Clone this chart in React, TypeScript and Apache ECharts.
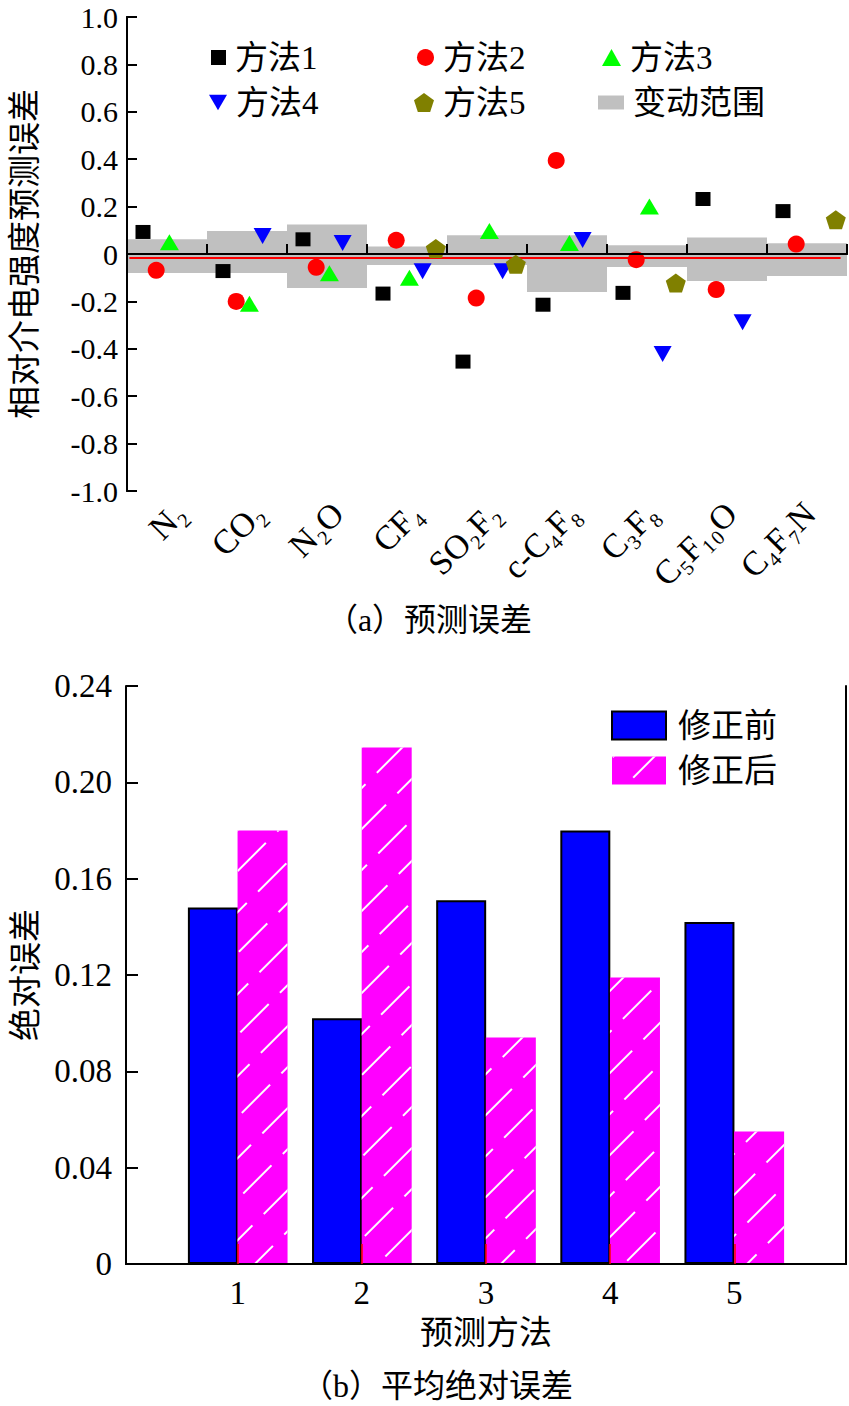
import React, { useEffect, useRef } from 'react';
import * as echarts from 'echarts';

const FONT = "'Liberation Serif', 'DejaVu Serif', 'Noto Sans CJK SC', serif";

// ---- chart (a) data ----
const gasLabels = ['N₂', 'CO₂', 'N₂O', 'CF₄', 'SO₂F₂', 'c-C₄F₈', 'C₃F₈', 'C₅F₁₀O', 'C₄F₇N'];
const methodNames = ['方法1', '方法2', '方法3', '方法4', '方法5'];
const method1 = [0.093, -0.072, 0.062, -0.167, -0.454, -0.214, -0.164, 0.232, 0.181];
const method2 = [-0.069, -0.2, -0.056, 0.058, -0.186, 0.395, -0.024, -0.15, 0.042];
const method3 = [0.05, -0.21, -0.081, -0.1, 0.097, 0.046, 0.2, null, null];
const method4 = [null, 0.076, 0.046, -0.073, -0.073, 0.059, -0.422, -0.288, null];
const method5 = [null, null, null, 0.023, -0.043, null, -0.122, null, 0.144];
const rangeLow = [-0.08, -0.08, -0.143, -0.046, -0.046, -0.16, -0.055, -0.114, -0.093];
const rangeHigh = [0.062, 0.097, 0.125, 0.032, 0.079, 0.079, 0.037, 0.07, 0.045];
const meanError = -0.017;
const rangeName = '变动范围';

// ---- chart (b) data ----
const methodIds = [1, 2, 3, 4, 5];
const maeBefore = [0.148, 0.102, 0.151, 0.18, 0.142];
const maeAfter = [0.18, 0.2145, 0.094, 0.119, 0.055];
const barNames = ['修正前', '修正后'];

const PENTAGON = 'path://M50,0 L97.6,34.5 L79.4,90.5 L20.6,90.5 L2.4,34.5 Z';
const INV_TRI = 'path://M0,0 L20,0 L10,17 Z';

const colors = ['#000000', '#FF0000', '#00FF00', '#0000FF', '#808000'];
const symbols = ['rect', 'circle', 'triangle', INV_TRI, PENTAGON];
const symbolSizes: any[] = [[15, 14], 17, [19, 16], [18, 16], [20, 19]];

const slot = (ci: number, k: number) => ci + 0.2 + 0.165 * k;

function buildOption(): any {
  const methodData = [method1, method2, method3, method4, method5];
  const scatterSeries = methodData.map((vals, k) => ({
    type: 'scatter',
    name: methodNames[k],
    xAxisIndex: 0,
    yAxisIndex: 0,
    symbol: symbols[k],
    symbolSize: symbolSizes[k],
    itemStyle: { color: colors[k], opacity: 1 },
    data: vals
      .map((v, ci) => (v === null ? null : [slot(ci, k), v]))
      .filter((d) => d !== null),
    z: 4,
  }));

  const bandSeries = {
    type: 'custom',
    name: rangeName,
    xAxisIndex: 0,
    yAxisIndex: 0,
    itemStyle: { color: '#C0C0C0' },
    encode: { x: 0, y: [1, 2] },
    data: rangeLow.map((lo, i) => [i, lo, rangeHigh[i]]),
    renderItem: (params: any, api: any) => {
      const i = api.value(0);
      const lo = api.value(1);
      const hi = api.value(2);
      const p1 = api.coord([i, hi]);
      const p2 = api.coord([i + 1, lo]);
      return {
        type: 'rect',
        shape: { x: p1[0], y: p1[1], width: p2[0] - p1[0], height: p2[1] - p1[1] },
        style: { fill: '#C0C0C0' },
      };
    },
    z: 1,
  };

  const meanLine = {
    type: 'line',
    xAxisIndex: 0,
    yAxisIndex: 0,
    data: [[0.03, meanError], [gasLabels.length - 0.08, meanError]],
    symbol: 'none',
    lineStyle: { color: '#FF0000', width: 2 },
    z: 2,
    silent: true,
  };

  const barBefore = {
    type: 'bar',
    name: barNames[0],
    xAxisIndex: 2,
    yAxisIndex: 2,
    barWidth: 50,
    barGap: '-100%',
    data: methodIds.map((m, i) => [m - 0.2, maeBefore[i]]),
    itemStyle: { color: '#0000FF', borderColor: '#000000', borderWidth: 2 },
    z: 2,
  };
  const barAfter = {
    type: 'bar',
    name: barNames[1],
    xAxisIndex: 2,
    yAxisIndex: 2,
    barWidth: 50,
    barGap: '-100%',
    data: methodIds.map((m, i) => [m + 0.2, maeAfter[i]]),
    itemStyle: {
      color: '#FF00FF',
      decal: {
        symbol: 'rect',
        symbolSize: 1,
        color: '#FFFFFF',
        dashArrayX: [40, 16],
        dashArrayY: [1.5, 27],
        rotation: -Math.PI / 4,
      },
    },
    z: 3,
  };

  const legendText = { fontSize: 33, fontFamily: FONT, color: '#000', padding: [0, 0, 0, 4] };
  const mkLegend = (name: string, icon: string, left: number, top: number, w: number, h: number) => ({
    left, top, padding: 0, itemGap: 0, itemWidth: w, itemHeight: h, selectedMode: false,
    textStyle: legendText,
    data: [{ name, icon }],
  });

  const frameLine = { lineStyle: { color: '#000', width: 2 } };
  const hidden = { axisLine: { show: false }, axisTick: { show: false }, axisLabel: { show: false }, splitLine: { show: false } };

  return {
    animation: false,
    backgroundColor: '#ffffff',
    textStyle: { fontFamily: FONT },
    grid: [
      { left: 127, top: 17, width: 720, height: 474 },
      { left: 126, top: 686, width: 720, height: 578 },
      // label-only grid for the rotated gas names (slightly shifted like the original)
      { left: 141, top: 17, width: 720, height: 474 },
    ],
    legend: [
      mkLegend(methodNames[0], 'rect', 211, 41, 15, 15),
      mkLegend(methodNames[1], 'circle', 417, 41, 17, 17),
      mkLegend(methodNames[2], 'triangle', 602, 41, 19, 17),
      mkLegend(methodNames[3], INV_TRI, 209, 86, 18, 16),
      mkLegend(methodNames[4], PENTAGON, 414, 86, 20, 19),
      mkLegend(rangeName, 'rect', 598, 86, 26, 14),
      {
        left: 611, top: 709, orient: 'vertical', padding: 0, itemGap: 12,
        itemWidth: 54, itemHeight: 28, selectedMode: false,
        textStyle: { fontSize: 33, fontFamily: FONT, color: '#000', padding: [0, 0, 0, 7] },
        data: [{ name: barNames[0], icon: 'rect' }, { name: barNames[1], icon: 'rect' }],
      },
    ],
    xAxis: [
      {
        type: 'value', gridIndex: 0, min: 0, max: gasLabels.length, interval: 1, position: 'bottom', z: 10,
        axisLine: frameLine,
        axisTick: { inside: true, length: 10, lineStyle: { color: '#000', width: 2 } },
        axisLabel: { show: false },
        splitLine: { show: false },
      },
      {
        type: 'value', gridIndex: 0, min: 0, max: gasLabels.length, position: 'top', z: 10,
        axisLine: frameLine, axisTick: { show: false }, axisLabel: { show: false }, splitLine: { show: false },
      },
      {
        type: 'value', gridIndex: 1, min: 0.1, max: 5.9, position: 'bottom', z: 10,
        axisLine: frameLine,
        axisTick: { inside: true, length: 20, customValues: methodIds, lineStyle: { color: '#FF0000', width: 1.5 } },
        axisLabel: {
          customValues: methodIds, margin: 12, fontSize: 33, fontFamily: FONT, color: '#000',
          formatter: (v: number) => String(v),
        },
        name: '预测方法', nameLocation: 'middle', nameGap: 52,
        nameTextStyle: { fontSize: 33, fontFamily: FONT, color: '#000' },
        splitLine: { show: false },
      },
      {
        type: 'value', gridIndex: 1, min: 0.1, max: 5.9, position: 'top', z: 10,
        axisLine: frameLine, axisTick: { show: false }, axisLabel: { show: false }, splitLine: { show: false },
      },
      {
        type: 'category', gridIndex: 2, position: 'bottom', boundaryGap: true,
        data: gasLabels,
        axisLine: { show: false }, axisTick: { show: false }, splitLine: { show: false },
        axisLabel: {
          interval: 0, rotate: 45, margin: 17, fontSize: 34, fontFamily: FONT, color: '#000',
        },
      },
    ],
    yAxis: [
      {
        type: 'value', gridIndex: 0, min: -1, max: 1, interval: 0.2, position: 'left', z: 11,
        axisLine: frameLine,
        axisTick: { inside: true, length: 10, lineStyle: { color: '#000', width: 2 } },
        axisLabel: {
          margin: 9, fontSize: 30, fontFamily: FONT, color: '#000',
          formatter: (v: number) => (Math.abs(v) < 1e-9 ? '0' : v.toFixed(1)),
        },
        name: '相对介电强度预测误差', nameLocation: 'middle', nameGap: 86, nameRotate: 90,
        nameTextStyle: { fontSize: 33, fontFamily: FONT, color: '#000' },
        splitLine: { show: false },
      },
      {
        type: 'value', gridIndex: 0, min: -1, max: 1, position: 'right', z: 11,
        axisLine: frameLine, axisTick: { show: false }, axisLabel: { show: false }, splitLine: { show: false },
      },
      {
        type: 'value', gridIndex: 1, min: 0, max: 0.24, interval: 0.04, position: 'left', z: 11,
        axisLine: frameLine,
        axisTick: { inside: true, length: 12, lineStyle: { color: '#000', width: 2 } },
        axisLabel: {
          margin: 14, fontSize: 33, fontFamily: FONT, color: '#000',
          formatter: (v: number) => (Math.abs(v) < 1e-9 ? '0' : v.toFixed(2)),
        },
        name: '绝对误差', nameLocation: 'middle', nameGap: 84, nameRotate: 90,
        nameTextStyle: { fontSize: 33, fontFamily: FONT, color: '#000' },
        splitLine: { show: false },
      },
      {
        type: 'value', gridIndex: 1, min: 0, max: 0.24, position: 'right', z: 11,
        axisLine: frameLine, axisTick: { show: false }, axisLabel: { show: false }, splitLine: { show: false },
      },
      { type: 'value', gridIndex: 2, min: -1, max: 1, ...hidden },
    ],
    graphic: [
      {
        type: 'text', x: 429, y: 620,
        style: { text: '（a）预测误差', fontSize: 32, fontFamily: FONT, fill: '#000', align: 'center', verticalAlign: 'middle' },
      },
      {
        type: 'text', x: 437, y: 1386,
        style: { text: '（b）平均绝对误差', fontSize: 32, fontFamily: FONT, fill: '#000', align: 'center', verticalAlign: 'middle' },
      },
    ],
    series: [bandSeries, meanLine, ...scatterSeries, barBefore, barAfter],
  };
}

export default function App() {
  const ref = useRef<HTMLDivElement>(null);
  useEffect(() => {
    if (!ref.current) return;
    const chart = echarts.init(ref.current, null, { renderer: 'svg' });
    chart.setOption(buildOption());
    return () => chart.dispose();
  }, []);
  return (
    <div
      ref={ref}
      style={{ position: 'absolute', left: 0, top: 0, width: 849, height: 1406, background: '#fff' }}
    />
  );
}
